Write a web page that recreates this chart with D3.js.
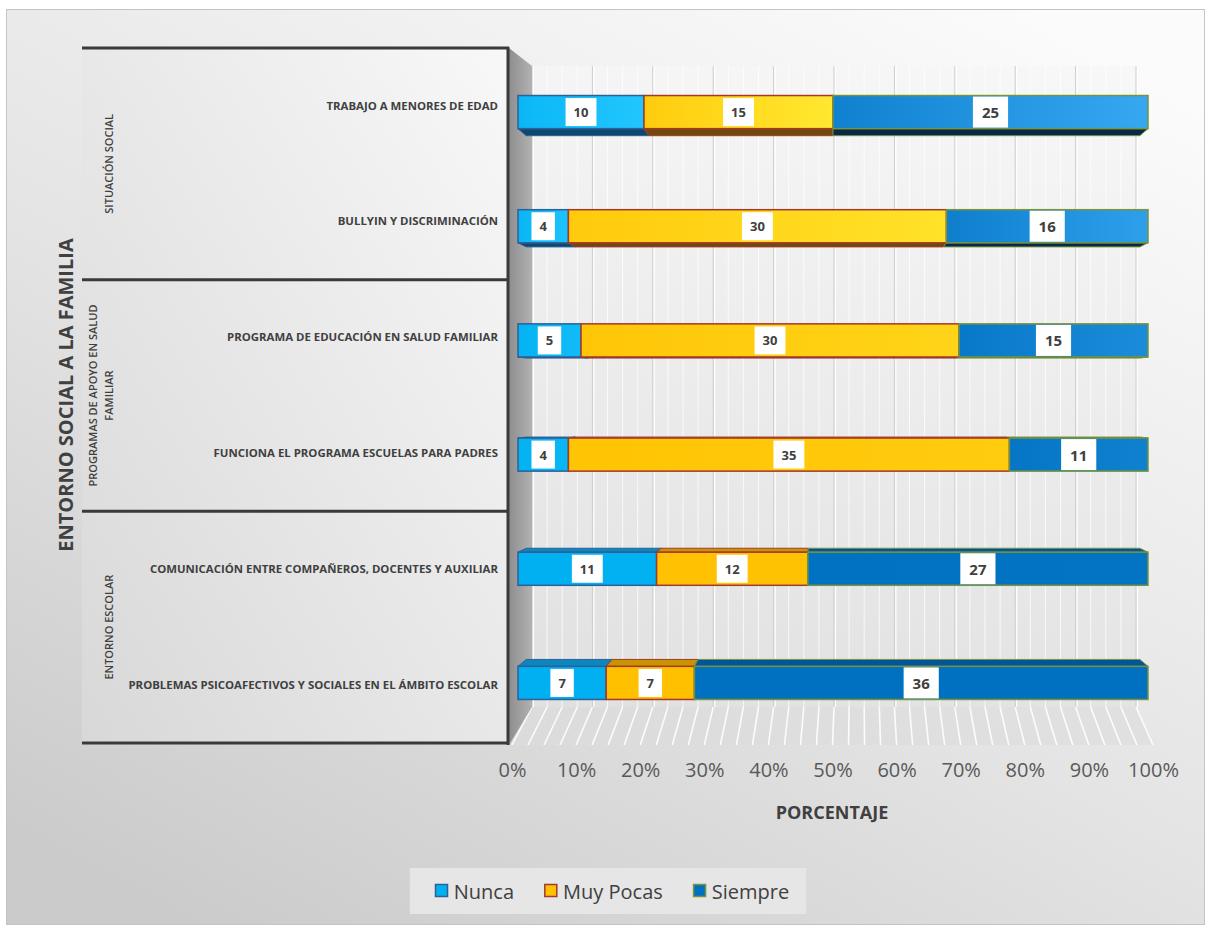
<!DOCTYPE html>
<html><head><meta charset="utf-8">
<script src="https://cdn.jsdelivr.net/npm/d3@7"></script>
<style>body{margin:0;background:#fff} svg{display:block}</style>
</head><body><svg id="chart" width="1209" height="926"></svg>
<script>
// ---------- DATA ----------
const groupLines = [["SITUACIÓN SOCIAL"], ["PROGRAMAS DE APOYO EN SALUD", "FAMILIAR"], ["ENTORNO ESCOLAR"]];
const categories = [
  "TRABAJO A MENORES DE EDAD",
  "BULLYIN Y DISCRIMINACIÓN",
  "PROGRAMA DE EDUCACIÓN EN SALUD FAMILIAR",
  "FUNCIONA EL PROGRAMA ESCUELAS PARA PADRES",
  "COMUNICACIÓN ENTRE COMPAÑEROS, DOCENTES Y AUXILIAR",
  "PROBLEMAS PSICOAFECTIVOS Y SOCIALES EN EL ÁMBITO ESCOLAR"
];
const categoryGroup = [0, 0, 1, 1, 2, 2];
const seriesNames = ["Nunca", "Muy Pocas", "Siempre"];
const nunca    = [10, 4, 5, 4, 11, 7];
const muyPocas = [15, 30, 30, 35, 12, 7];
const siempre  = [25, 16, 15, 11, 27, 36];
const tickValues = [0, 0.1, 0.2, 0.3, 0.4, 0.5, 0.6, 0.7, 0.8, 0.9, 1];
const xTitle = "PORCENTAJE";
const yTitle = "ENTORNO SOCIAL A LA FAMILIA";

// ---------- STYLE ----------
const FONT = "'Open Sans', 'DejaVu Sans', sans-serif";
const TXT = "#404040";
const baseCol  = ["#00B0F0", "#FFC000", "#0070C0"];
const hlCol    = ["#22c6ff", "#ffe830", "#36a8f2"];
const border   = ["#2f5f98", "#a3392e", "#77933c"];
const bottomFc = ["#0b4a6e", "#6e4a08", "#06294a"];
const topFc    = ["#0c86bd", "#c89400", "#03559a"];
const light    = [1, 0.85, 0.5, 0.3, 0.05, 0];

const svg = d3.select("#chart");
const defs = svg.append("defs");

// background
const bg = defs.append("linearGradient").attr("id", "bg")
  .attr("x1", 0.85).attr("y1", 0).attr("x2", 0.15).attr("y2", 1);
bg.append("stop").attr("offset", 0).attr("stop-color", "#fbfbfb");
bg.append("stop").attr("offset", 0.55).attr("stop-color", "#e4e4e4");
bg.append("stop").attr("offset", 1).attr("stop-color", "#cbcbcb");
svg.append("rect").attr("x", 6.5).attr("y", 9.5).attr("width", 1198).attr("height", 915)
  .attr("fill", "url(#bg)").attr("stroke", "#c4c4c4");

// ---------- SCALES ----------
const xBar   = d3.scaleLinear().domain([0, 1]).range([518, 1148]);
const xFront = d3.scaleLinear().domain([0, 1]).range([512, 1153]);
const xBack  = d3.scaleLinear().domain([0, 1]).range([532, 1136]);
const yPanel = d3.scaleBand().domain(categories).range([48, 743]);
const yBar   = d3.scaleBand().domain(categories).range([55, 740]);
const barH = yBar.bandwidth() * 0.29;
const V = {x: 833, y: 400}, K = 0.974;
const back = (x, y) => [V.x + (x - V.x) * K, V.y + (y - V.y) * K];

const wallTop = 66, wallBot = 707, floorFront = 745;

// back wall
const wg = defs.append("linearGradient").attr("id", "wall").attr("x1", 0).attr("y1", 0).attr("x2", 0).attr("y2", 1);
wg.append("stop").attr("offset", 0).attr("stop-color", "#f6f6f6");
wg.append("stop").attr("offset", 1).attr("stop-color", "#e2e2e2");
svg.append("rect").attr("x", xBack(0)).attr("y", wallTop).attr("width", xBack(1) - xBack(0))
  .attr("height", wallBot - wallTop).attr("fill", "url(#wall)").attr("opacity", 0.7);

// minor & major gridlines
const minor = d3.range(0, 1.0001, 0.025);
svg.append("g").selectAll("line").data(minor).join("line")
  .attr("x1", d => xBack(d)).attr("x2", d => xBack(d))
  .attr("y1", wallTop).attr("y2", wallBot)
  .attr("stroke", (d, i) => i % 4 === 0 ? "#cdcdcd" : "#ffffff")
  .attr("stroke-opacity", (d, i) => i % 4 === 0 ? 1 : 0.75)
  .attr("stroke-width", 1);
svg.append("g").selectAll("line").data(tickValues).join("line")
  .attr("x1", d => xBack(d) + 1.5).attr("x2", d => xBack(d) + 1.5)
  .attr("y1", wallTop).attr("y2", wallBot)
  .attr("stroke", "#ffffff").attr("stroke-width", 1.2);

// floor
svg.append("path")
  .attr("d", `M${xBack(0)},${wallBot}L${xBack(1)},${wallBot}L${xFront(1)},${floorFront}L${xFront(0)},${floorFront}Z`)
  .attr("fill", "#dcdcdc").attr("opacity", 0.6);
svg.append("g").selectAll("line").data(minor).join("line")
  .attr("x1", d => xBack(d)).attr("y1", wallBot)
  .attr("x2", d => xFront(d)).attr("y2", floorFront)
  .attr("stroke", "#ffffff").attr("stroke-width", 1.6).attr("stroke-opacity", 0.9);

// left side wall
const sw = defs.append("linearGradient").attr("id", "side").attr("x1", 0).attr("y1", 0).attr("x2", 1).attr("y2", 0);
sw.append("stop").attr("offset", 0).attr("stop-color", "#8e8e8e");
sw.append("stop").attr("offset", 1).attr("stop-color", "#b2b2b2");
svg.append("path")
  .attr("d", `M509,48L${xBack(0)},${wallTop}L${xBack(0)},${wallBot}L509,${floorFront}Z`)
  .attr("fill", "url(#side)");

// ---------- LEFT PANEL ----------
const pg = defs.append("linearGradient").attr("id", "panel").attr("x1", 1).attr("y1", 0).attr("x2", 0).attr("y2", 1);
pg.append("stop").attr("offset", 0).attr("stop-color", "#f8f8f8");
pg.append("stop").attr("offset", 1).attr("stop-color", "#d8d8d8");
svg.append("rect").attr("x", 82).attr("y", 48).attr("width", 426).attr("height", 695).attr("fill", "url(#panel)");

const groupBounds = [0, 2, 4, 6].map(i => i < 6 ? yPanel(categories[i]) : yPanel.range()[1]);
svg.append("g").selectAll("line").data(groupBounds).join("line")
  .attr("x1", 82).attr("x2", 509).attr("y1", d => d).attr("y2", d => d)
  .attr("stroke", "#3a3a3a").attr("stroke-width", 3);
svg.append("line").attr("x1", 508).attr("x2", 508).attr("y1", 47).attr("y2", 745)
  .attr("stroke", "#3a3a3a").attr("stroke-width", 3);

// group labels
groupLines.forEach((lines, gi) => {
  const cy = (groupBounds[gi] + groupBounds[gi + 1]) / 2;
  lines.forEach((ln, li) => {
    const cx = 108 - (lines.length - 1 - li) * 16;
    svg.append("text")
      .attr("transform", `translate(${cx},${cy}) rotate(-90)`)
      .attr("text-anchor", "middle").attr("dominant-baseline", "central")
      .attr("font-family", FONT).attr("font-size", 11).attr("font-weight", 600)
      .attr("fill", TXT).text(ln);
  });
});

// category labels
const yAxis = d3.axisLeft(yPanel).tickSize(0).tickPadding(0);
const ya = svg.append("g").attr("transform", "translate(498,0)").call(yAxis);
ya.select(".domain").remove();
ya.selectAll("text").attr("font-family", FONT).attr("font-size", 11.4).attr("font-weight", 700)
  .attr("fill", TXT);

// y title
svg.append("text").attr("transform", `translate(65,395) rotate(-90)`)
  .attr("text-anchor", "middle").attr("dominant-baseline", "central")
  .attr("font-family", FONT).attr("font-size", 20).attr("font-weight", 700)
  .attr("fill", TXT).text(yTitle);

// ---------- BARS ----------
const rows = categories.map((c, i) => ({cat: c, i, Nunca: nunca[i], "Muy Pocas": muyPocas[i], Siempre: siempre[i]}));
const stacked = d3.stack().keys(seriesNames).offset(d3.stackOffsetExpand)(rows);

const faces = svg.append("g");
const fronts = svg.append("g");
const labels = svg.append("g");

stacked.forEach((layer, si) => {
  layer.forEach((seg, bi) => {
    const x0 = xBar(seg[0]), x1 = xBar(seg[1]);
    const y0 = yBar(categories[bi]) + (yBar.bandwidth() - barH) / 2, y1 = y0 + barH;
    let fy = null, col = null;
    if (y1 < V.y) { fy = y1; col = bottomFc[si]; }
    else if (y0 > V.y) { fy = y0; col = topFc[si]; }
    if (fy !== null) {
      const a = back(x0, fy), b = back(x1, fy);
      faces.append("path")
        .attr("d", `M${x0},${fy}L${x1},${fy}L${b[0]},${b[1]}L${a[0]},${a[1]}Z`)
        .attr("fill", col).attr("stroke", border[si]).attr("stroke-width", 1);
    }
    const gid = `g${si}_${bi}`;
    const t = light[bi];
    const gr = defs.append("linearGradient").attr("id", gid).attr("x1", 0).attr("y1", 0).attr("x2", 1).attr("y2", 0);
    gr.append("stop").attr("offset", 0).attr("stop-color", d3.interpolateRgb(baseCol[si], hlCol[si])(t * 0.3));
    gr.append("stop").attr("offset", 1).attr("stop-color", d3.interpolateRgb(baseCol[si], hlCol[si])(t));
    fronts.append("rect").attr("x", x0).attr("y", y0).attr("width", x1 - x0).attr("height", barH)
      .attr("fill", `url(#${gid})`).attr("stroke", border[si]).attr("stroke-width", 1.5);

    const val = seg.data[seriesNames[si]];
    const big = si === 2;
    const lg = labels.append("g").attr("transform", `translate(${(x0 + x1) / 2},${(y0 + y1) / 2})`);
    const tx = lg.append("text").attr("text-anchor", "middle").attr("dominant-baseline", "central")
      .attr("font-family", FONT).attr("font-weight", 700).attr("font-size", big ? 15 : 13)
      .attr("fill", TXT).text(val);
    const w = tx.node().getComputedTextLength() + (big ? 18 : 16);
    const h = big ? 31 : 28;
    lg.insert("rect", "text").attr("x", -w / 2).attr("y", -h / 2).attr("width", w).attr("height", h).attr("fill", "#ffffff");
  });
});

// ---------- X AXIS ----------
const xAxis = d3.axisBottom(xFront).tickValues(tickValues).tickFormat(d3.format(".0%")).tickSize(0).tickPadding(0);
const xa = svg.append("g").attr("transform", "translate(0,763)").call(xAxis);
xa.select(".domain").remove();
xa.selectAll("text").attr("font-family", FONT).attr("font-size", 20).attr("fill", "#595959").attr("dy", "0.71em");

svg.append("text").attr("x", 832).attr("y", 812).attr("text-anchor", "middle").attr("dominant-baseline", "central")
  .attr("font-family", FONT).attr("font-size", 18).attr("font-weight", 700).attr("fill", TXT).text(xTitle);

// ---------- LEGEND ----------
const leg = svg.append("g");
const legBox = leg.append("rect").attr("fill", "#e6e6e6");
let cx = 0;
seriesNames.forEach((s, i) => {
  const g = leg.append("g").attr("transform", `translate(${cx},0)`);
  g.append("rect").attr("x", 0.75).attr("y", -6.5).attr("width", 12).attr("height", 12)
    .attr("fill", baseCol[i]).attr("stroke", border[i]).attr("stroke-width", 1.5);
  const t = g.append("text").attr("x", 19).attr("dominant-baseline", "central")
    .attr("font-family", FONT).attr("font-size", 20).attr("fill", TXT).text(s);
  cx += 19 + t.node().getComputedTextLength() + 30;
});
const legW = cx - 30;
const legX = 612 - legW / 2, legY = 891;
leg.attr("transform", `translate(${legX},${legY})`);
legBox.attr("x", -25).attr("y", -23).attr("width", legW + 42).attr("height", 46);
</script>
</body></html>
